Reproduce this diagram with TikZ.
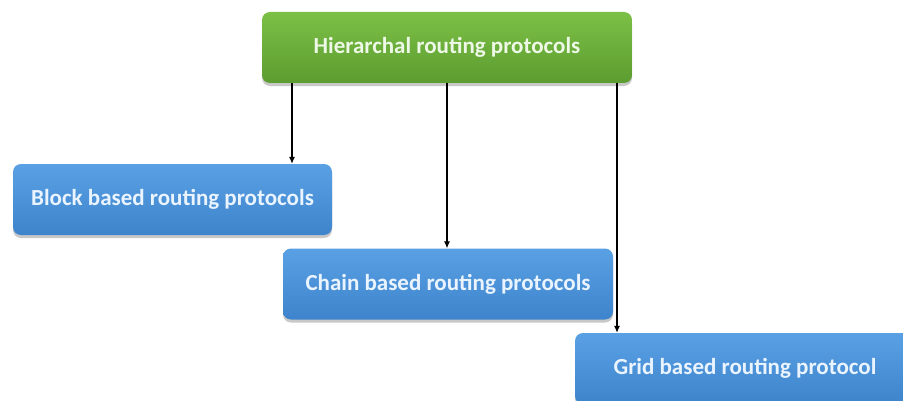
\documentclass[tikz,border=0pt]{standalone}
\usepackage{fontspec}
\setmainfont{Carlito}
\usetikzlibrary{shadows,arrows.meta}

\definecolor{greentop}{HTML}{7CC046}
\definecolor{greenbot}{HTML}{5C9C30}
\definecolor{bluetop}{HTML}{5AA0E4}
\definecolor{bluebot}{HTML}{3E84CC}
\definecolor{greentext}{HTML}{EEF8E6}
\definecolor{bluetext}{HTML}{EAF4FF}

\begin{document}
\begin{tikzpicture}[x=1pt,y=1pt,
  box/.style={rounded corners=8pt, minimum height=71pt, inner sep=0pt,
    font=\fontsize{23}{26}\selectfont\bfseries,
    drop shadow={shadow xshift=0pt, shadow yshift=-3pt, opacity=0.3, fill=black!70}},
  toplevel/.style={box, top color=greentop, bottom color=greenbot, text=greentext},
  sublevel/.style={box, top color=bluetop, bottom color=bluebot, text=bluetext},
  link/.style={draw=black, line width=1.1pt, -{Latex[length=7pt,width=6pt]}}]

\useasboundingbox (0,0) rectangle (903,400);
\fill[white] (0,0) rectangle (903,400);

% boxes
\node[toplevel, minimum width=370pt] (root) at (447,352.5) {Hierarchal routing protocols};
\node[sublevel, minimum width=319pt] (block) at (172.5,200.5) {Block based routing protocols};
\node[sublevel, minimum width=330pt] (chain) at (448,116) {Chain based routing protocols};
\node[sublevel, minimum width=340pt] (grid) at (745,31.5) {Grid based routing protocol};

% arrow columns
\coordinate (c1) at (292,0);
\coordinate (c2) at (447,0);
\coordinate (c3) at (617,0);

% connectors
\draw[link] (c1 |- root.south) -- (c1 |- block.north);
\draw[link] (c2 |- root.south) -- (c2 |- chain.north);
\draw[link] (c3 |- root.south) -- (c3 |- grid.north);
\end{tikzpicture}
\end{document}
